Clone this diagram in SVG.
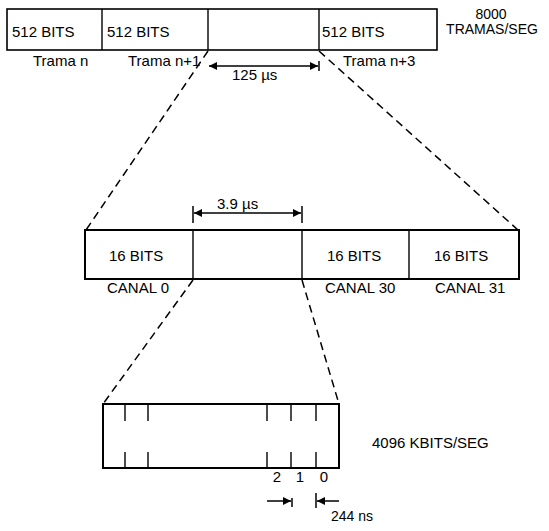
<svg xmlns="http://www.w3.org/2000/svg" width="549" height="531" viewBox="0 0 549 531">
<defs>
<marker id="ah" viewBox="0 0 10 10" refX="10" refY="5" markerWidth="10" markerHeight="8" markerUnits="userSpaceOnUse" orient="auto-start-reverse">
<path d="M0,0 L10,5 L0,10 z" fill="#000"/>
</marker>
<style>
text{font-family:"Liberation Sans",Arial,sans-serif;font-size:15px;fill:#000}
.box{fill:#fff;stroke:#000;stroke-width:1.6}
.box2{fill:#fff;stroke:#000;stroke-width:2}
.div{stroke:#000;stroke-width:1.4}
.dash{fill:none;stroke:#000;stroke-width:1.5;stroke-dasharray:8 5}
.dim{stroke:#000;stroke-width:1.5;fill:none}
.mid{text-anchor:middle}
</style>
</defs>
<rect width="549" height="531" fill="#fff"/>

<g id="connectors">
<line class="dash" x1="208" y1="51" x2="86" y2="230"/>
<line class="dash" x1="319" y1="51" x2="518" y2="230"/>
<line class="dash" x1="193" y1="280" x2="103" y2="404"/>
<line class="dash" x1="302" y1="280" x2="339" y2="404"/>
</g>

<g id="frames">
<rect class="box" x="7" y="9" width="430" height="41"/>
<line class="div" x1="102" y1="9" x2="102" y2="50"/>
<line class="div" x1="208" y1="9" x2="208" y2="50"/>
<line class="div" x1="319" y1="9" x2="319" y2="50"/>
<text x="12" y="37">512 BITS</text>
<text x="107" y="37">512 BITS</text>
<text x="322" y="37">512 BITS</text>
<text x="33" y="66">Trama n</text>
<text x="128" y="66">Trama n+1</text>
<text x="343" y="66">Trama n+3</text>
<text class="mid" x="491" y="19" style="font-size:14px">8000</text>
<text class="mid" x="492" y="34" style="font-size:14px">TRAMAS/SEG</text>
</g>

<g id="dim125">
<line class="dim" x1="209" y1="66" x2="318" y2="66" marker-start="url(#ah)" marker-end="url(#ah)"/>
<line class="dim" x1="319" y1="61" x2="319" y2="71"/>
<text x="232" y="80">125  µs</text>
</g>

<g id="channels">
<rect class="box2" x="85" y="230" width="434" height="49"/>
<line class="div" x1="193" y1="230" x2="193" y2="279"/>
<line class="div" x1="302" y1="230" x2="302" y2="279"/>
<line class="div" x1="409" y1="230" x2="409" y2="279"/>
<text x="109" y="261">16 BITS</text>
<text x="327" y="261">16 BITS</text>
<text x="434" y="261">16 BITS</text>
<text x="107" y="293">CANAL 0</text>
<text x="325" y="293">CANAL 30</text>
<text x="435" y="293">CANAL 31</text>
</g>

<g id="dim39">
<line class="dim" x1="194" y1="213" x2="301" y2="213" marker-start="url(#ah)" marker-end="url(#ah)"/>
<line class="dim" x1="193" y1="206" x2="193" y2="223"/>
<line class="dim" x1="302" y1="206" x2="302" y2="223"/>
<text x="217" y="209">3.9 µs</text>
</g>

<g id="bits">
<rect class="box2" x="103" y="404" width="236" height="64"/>
<g class="div">
<line x1="125" y1="404" x2="125" y2="421"/><line x1="125" y1="452" x2="125" y2="468"/>
<line x1="148" y1="404" x2="148" y2="421"/><line x1="148" y1="452" x2="148" y2="468"/>
<line x1="267" y1="404" x2="267" y2="421"/><line x1="267" y1="452" x2="267" y2="468"/>
<line x1="291" y1="404" x2="291" y2="421"/><line x1="291" y1="452" x2="291" y2="468"/>
<line x1="316" y1="404" x2="316" y2="421"/><line x1="316" y1="452" x2="316" y2="468"/>
</g>
<text class="mid" x="277" y="482">2</text>
<text class="mid" x="300" y="482">1</text>
<text class="mid" x="324" y="482">0</text>
<text x="372" y="448">4096 KBITS/SEG</text>
</g>

<g id="dim244">
<line class="dim" x1="267" y1="501" x2="291" y2="501" marker-end="url(#ah)"/>
<line class="dim" x1="292" y1="498" x2="292" y2="507"/>
<line class="dim" x1="339" y1="501" x2="317" y2="501" marker-end="url(#ah)"/>
<line class="dim" x1="316" y1="493" x2="316" y2="508"/>
<text x="331" y="521" style="font-size:14px">244 ns</text>
</g>
</svg>
